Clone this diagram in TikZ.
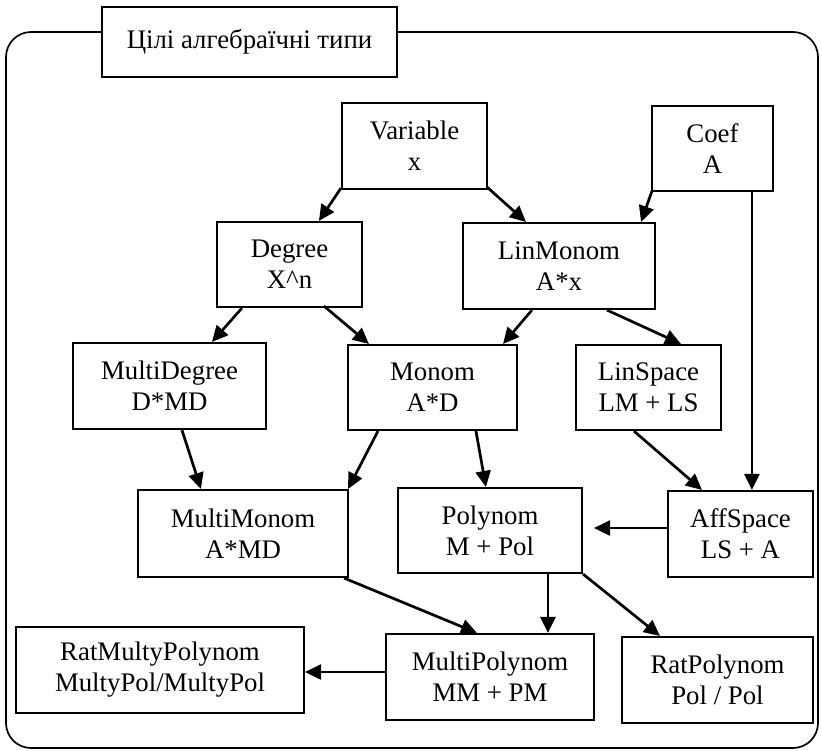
\documentclass[tikz,border=0pt]{standalone}
\usepackage{fontspec}
\setmainfont{Liberation Serif}
\usetikzlibrary{arrows.meta,calc}
\begin{document}
\begin{tikzpicture}[x=1pt,y=-1pt,
  bx/.style={draw, line width=2.1pt, fill=white, align=center, inner sep=0pt,
    font=\fontsize{26.8}{31}\selectfont},
  arr/.style={line width=2.7pt, -{Triangle[length=16pt,width=15pt]}},
  frame/.style={draw, line width=1.7pt, rounded corners=25pt}]
\useasboundingbox (0,0) rectangle (822,750);
\draw[frame] (6,32) rectangle (818,748);
\node[bx, minimum width=295pt, minimum height=70pt] (title) at (249.5,42) {Цілі алгебраїчні типи};
\node[bx, minimum width=145pt, minimum height=86pt] (var) at (414.5,146) {Variable\\x};
\node[bx, minimum width=121pt, minimum height=85pt] (coef) at (712.5,148.5) {Coef\\A};
\node[bx, minimum width=145pt, minimum height=85pt] (deg) at (289.5,264.5) {Degree\\X\^{}n};
\node[bx, minimum width=192pt, minimum height=86pt] (linm) at (559,266) {LinMonom\\A*x};
\node[bx, minimum width=193pt, minimum height=86pt] (mdeg) at (169.5,386) {MultiDegree\\D*MD};
\node[bx, minimum width=169pt, minimum height=85pt] (monom) at (432.5,387.5) {Monom\\A*D};
\node[bx, minimum width=145pt, minimum height=85pt] (lins) at (648.5,387.5) {LinSpace\\LM + LS};
\node[bx, minimum width=210pt, minimum height=87pt] (mmon) at (243,533.5) {MultiMonom\\A*MD};
\node[bx, minimum width=184pt, minimum height=85pt] (poly) at (490,530.5) {Polynom\\M + Pol};
\node[bx, minimum width=145pt, minimum height=86pt] (aff) at (740.5,534) {AffSpace\\LS + A};
\node[bx, minimum width=288pt, minimum height=86pt] (rmp) at (160,670) {RatMultyPolynom\\MultyPol/MultyPol};
\node[bx, minimum width=208pt, minimum height=86pt] (mpoly) at (490,677) {MultiPolynom\\MM + PM};
\node[bx, minimum width=191pt, minimum height=86pt] (rpoly) at (717.5,680) {RatPolynom\\Pol / Pol};
% connectors
\draw[arr] ($(var.south west)+(0,-2)$) -- ($(deg.north west)+(103,0)$);
\draw[arr] ($(var.south east)+(-1,-3)$) -- ($(linm.north west)+(64,0)$);
\draw[arr] ($(coef.south west)+(1,-1)$) -- ($(linm.north east)+(-15,0)$);
\draw[arr] ($(coef.south west)+(101,0)$) -- ($(aff.north west)+(85,0)$);
\draw[arr] ($(deg.south west)+(26,0)$) -- ($(mdeg.north west)+(140,0)$);
\draw[arr] ($(deg.south west)+(108,-2)$) -- ($(monom.north west)+(22,0)$);
\draw[arr] ($(linm.south west)+(70,0)$) -- ($(monom.north east)+(-15,0)$);
\draw[arr] ($(linm.south west)+(145,0)$) -- ($(lins.north west)+(106,0)$);
\draw[arr] ($(mdeg.south west)+(110,0)$) -- ($(mmon.north west)+(64,0)$);
\draw[arr] ($(monom.south west)+(31,0)$) -- ($(mmon.north east)+(-1,0)$);
\draw[arr] ($(monom.south west)+(129,0)$) -- ($(poly.north west)+(89,0)$);
\draw[arr] ($(lins.south west)+(59,0)$) -- ($(aff.north west)+(35,0)$);
\draw[arr] ($(aff.west)+(2,-6)$) -- ($(poly.east)+(11,-2.5)$);
\draw[arr] ($(mmon.south east)+(-5,0)$) -- ($(mpoly.north west)+(92,0)$);
\draw[arr] ($(poly.south west)+(151,0)$) -- ($(mpoly.north west)+(163,0)$);
\draw[arr] (poly.south east) -- ($(rpoly.north west)+(39,0)$);
\draw[arr] ($(mpoly.west)+(0,-5)$) -- ($(rmp.east)+(0,2)$);
\end{tikzpicture}
\end{document}
